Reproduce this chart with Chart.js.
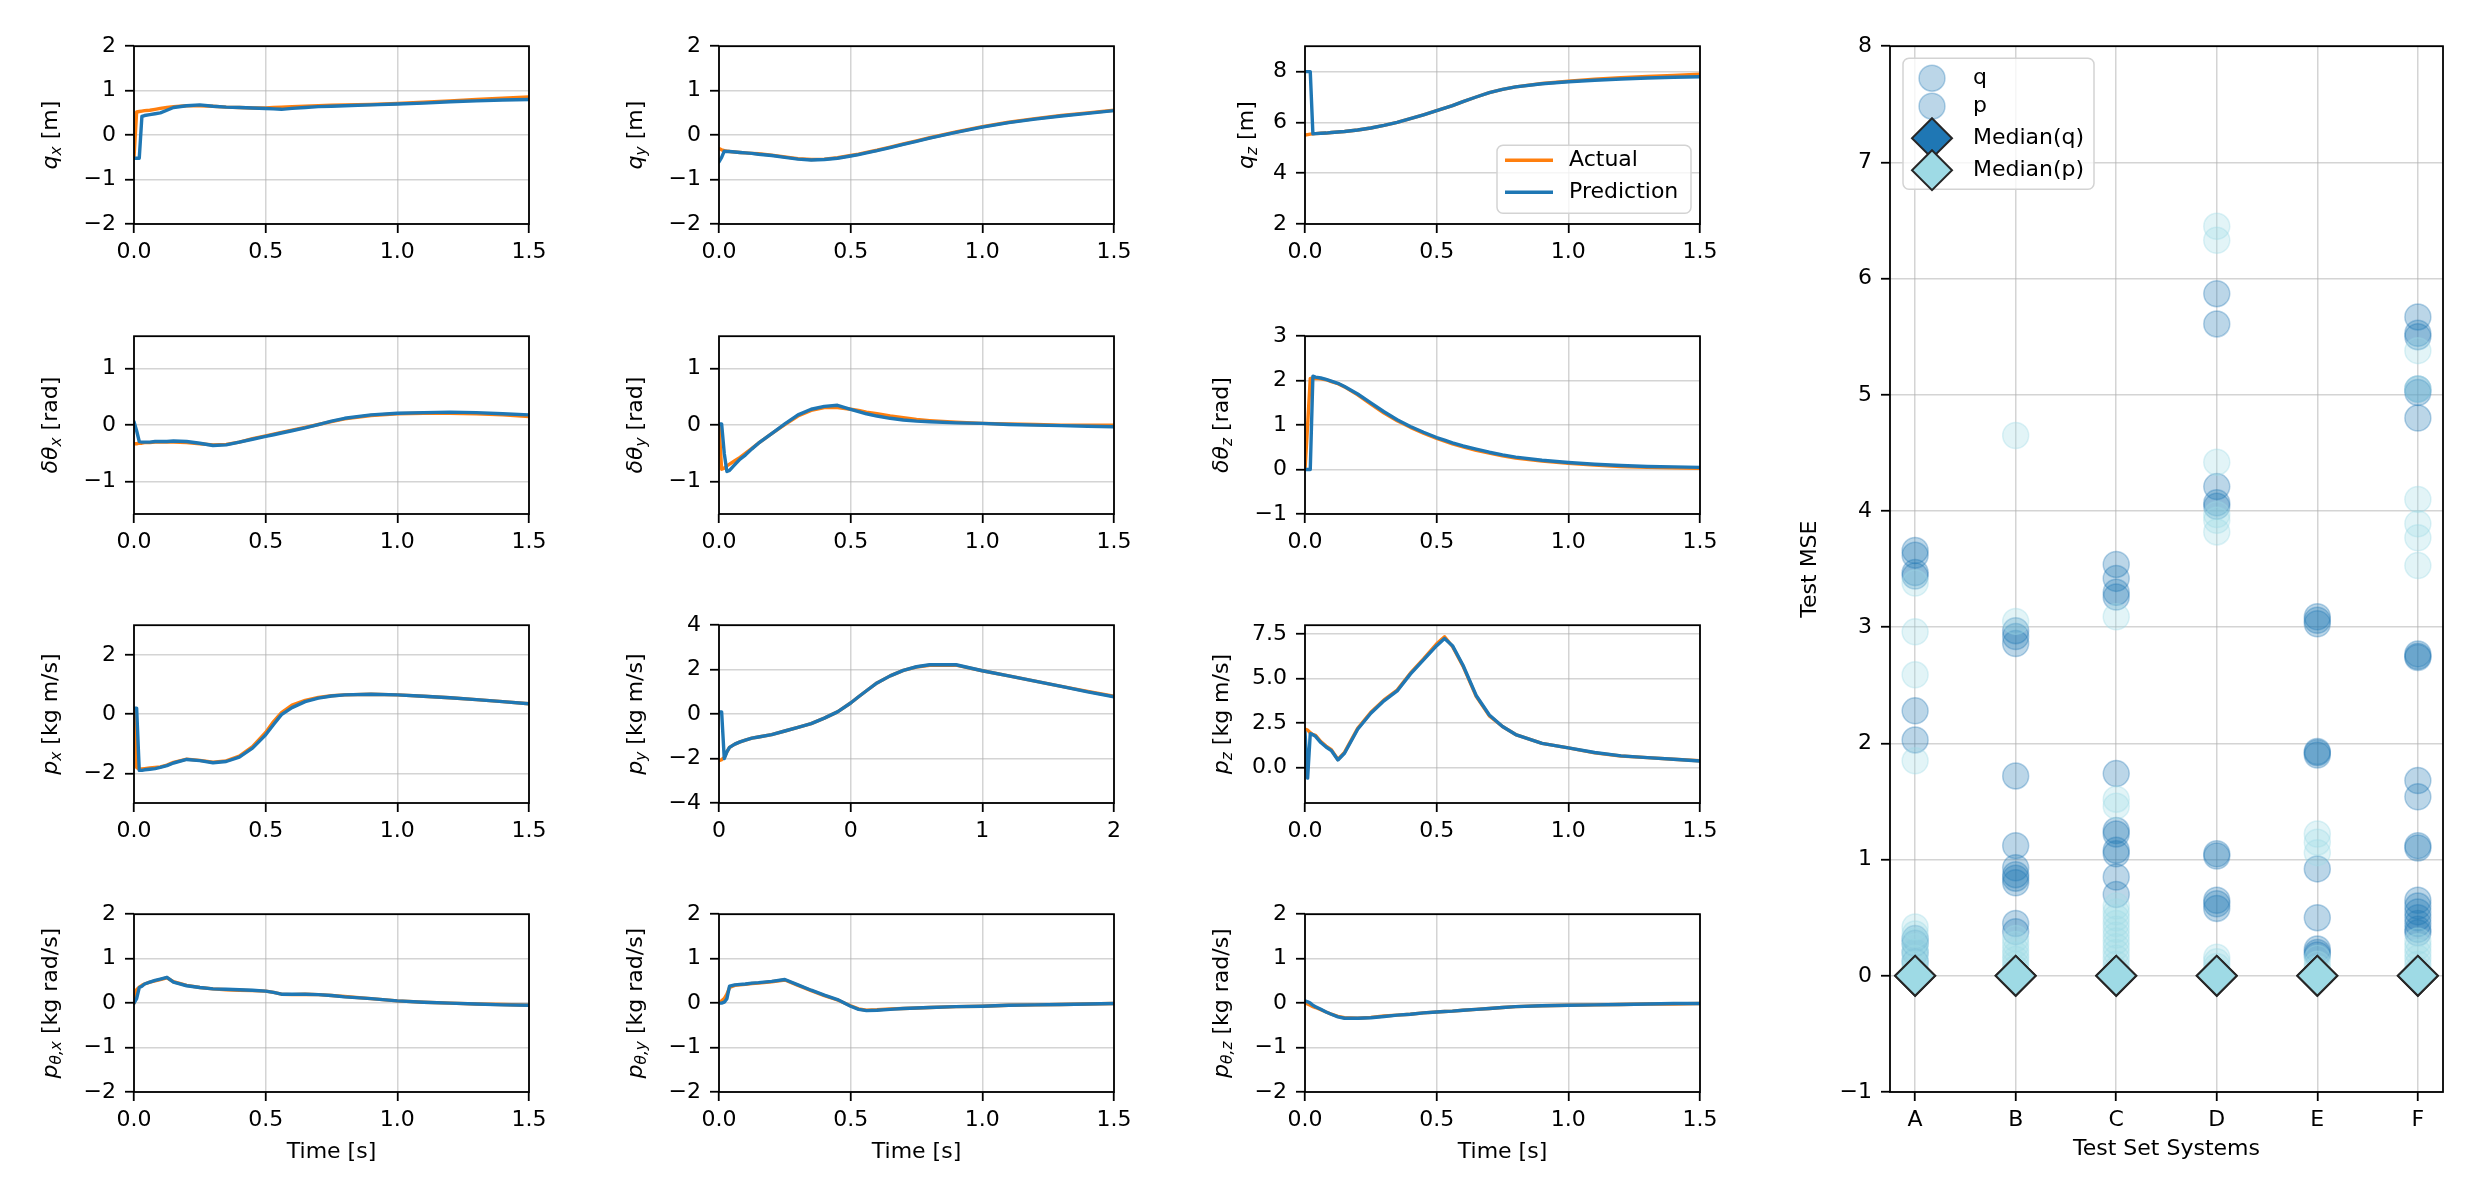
<!DOCTYPE html>
<html>
<head>
<meta charset="utf-8">
<script src="https://cdn.jsdelivr.net/npm/chart.js@4.4.1/dist/chart.umd.min.js"></script>
<style>
  html, body { margin: 0; padding: 0; background: #fff; }
  #fig { position: relative; width: 2473px; height: 1180px; overflow: hidden; background: #fff; }
</style>
</head>
<body>
<div id="fig"></div>
<script>
// ---- time samples shared by all trajectory panels
const time = [0, 0.01, 0.02, 0.03, 0.04, 0.06, 0.08, 0.1, 0.125, 0.15, 0.2, 0.25, 0.3, 0.35, 0.4,
              0.45, 0.5, 0.53, 0.56, 0.6, 0.65, 0.7, 0.75, 0.8, 0.9, 1.0, 1.1, 1.2, 1.3, 1.4, 1.5];

// position q
const qxActual = [-0.5, 0.52, 0.53, 0.54, 0.55, 0.56, 0.58, 0.6, 0.62, 0.64, 0.66, 0.66, 0.65, 0.63, 0.62, 0.61, 0.61, 0.62, 0.63, 0.64, 0.65, 0.66, 0.67, 0.68, 0.69, 0.71, 0.74, 0.77, 0.8, 0.83, 0.86];
const qxPred   = [-0.52, -0.52, -0.52, 0.42, 0.44, 0.46, 0.48, 0.5, 0.56, 0.62, 0.66, 0.68, 0.65, 0.63, 0.62, 0.61, 0.6, 0.59, 0.58, 0.6, 0.62, 0.64, 0.65, 0.66, 0.68, 0.7, 0.72, 0.75, 0.77, 0.79, 0.8];
const qyActual = [-0.3, -0.33, -0.35, -0.36, -0.37, -0.38, -0.39, -0.4, -0.41, -0.42, -0.45, -0.49, -0.53, -0.55, -0.54, -0.51, -0.46, -0.43, -0.39, -0.34, -0.27, -0.2, -0.13, -0.06, 0.07, 0.19, 0.29, 0.37, 0.44, 0.5, 0.56];
const qyPred   = [-0.6, -0.5, -0.36, -0.37, -0.37, -0.38, -0.39, -0.4, -0.41, -0.43, -0.46, -0.5, -0.54, -0.56, -0.55, -0.52, -0.47, -0.44, -0.4, -0.35, -0.28, -0.21, -0.14, -0.07, 0.06, 0.18, 0.28, 0.36, 0.43, 0.49, 0.55];
const qzActual = [5.5, 5.52, 5.54, 5.55, 5.56, 5.57, 5.58, 5.6, 5.62, 5.64, 5.7, 5.78, 5.88, 6.0, 6.15, 6.3, 6.46, 6.56, 6.66, 6.82, 7.0, 7.17, 7.3, 7.4, 7.53, 7.62, 7.7, 7.76, 7.81, 7.85, 7.9];
const qzPred   = [8.0, 8.0, 8.0, 5.55, 5.56, 5.57, 5.58, 5.6, 5.62, 5.64, 5.7, 5.78, 5.88, 6.0, 6.15, 6.3, 6.46, 6.56, 6.66, 6.82, 7.0, 7.17, 7.3, 7.4, 7.52, 7.6, 7.66, 7.71, 7.75, 7.78, 7.8];

// orientation delta theta
const dxActual = [-0.33, -0.33, -0.32, -0.32, -0.31, -0.31, -0.3, -0.3, -0.3, -0.3, -0.31, -0.33, -0.35, -0.34, -0.3, -0.24, -0.19, -0.16, -0.13, -0.09, -0.04, 0.01, 0.06, 0.11, 0.17, 0.2, 0.21, 0.21, 0.2, 0.18, 0.15];
const dxPred   = [0.06, -0.1, -0.29, -0.3, -0.3, -0.3, -0.29, -0.29, -0.29, -0.28, -0.29, -0.32, -0.36, -0.35, -0.3, -0.25, -0.2, -0.17, -0.14, -0.1, -0.05, 0.01, 0.07, 0.12, 0.18, 0.21, 0.22, 0.23, 0.22, 0.2, 0.18];
const dyActual = [0.0, -0.78, -0.76, -0.72, -0.69, -0.63, -0.57, -0.5, -0.41, -0.32, -0.15, 0.01, 0.16, 0.26, 0.31, 0.31, 0.28, 0.26, 0.23, 0.2, 0.16, 0.13, 0.1, 0.08, 0.05, 0.03, 0.02, 0.01, 0.0, 0.0, 0.0];
const dyPred   = [0.02, 0.02, -0.5, -0.82, -0.8, -0.7, -0.6, -0.53, -0.42, -0.32, -0.15, 0.02, 0.18, 0.28, 0.33, 0.35, 0.28, 0.24, 0.2, 0.16, 0.12, 0.09, 0.07, 0.06, 0.04, 0.03, 0.01, 0.0, -0.01, -0.02, -0.03];
const dzActual = [0.0, 1.0, 2.05, 2.05, 2.05, 2.04, 2.02, 1.98, 1.93, 1.86, 1.68, 1.47, 1.27, 1.1, 0.95, 0.82, 0.7, 0.64, 0.58, 0.51, 0.43, 0.37, 0.31, 0.26, 0.19, 0.14, 0.1, 0.07, 0.05, 0.04, 0.03];
const dzPred   = [0.0, 0.0, 0.0, 2.1, 2.08, 2.06, 2.03, 1.99, 1.94, 1.87, 1.7, 1.5, 1.3, 1.12, 0.97, 0.84, 0.72, 0.66, 0.6, 0.53, 0.46, 0.39, 0.33, 0.28, 0.21, 0.16, 0.12, 0.09, 0.07, 0.06, 0.05];

// linear momentum p
const pxActual = [0.15, -1.8, -1.85, -1.85, -1.84, -1.82, -1.8, -1.78, -1.72, -1.63, -1.52, -1.56, -1.62, -1.58, -1.42, -1.1, -0.62, -0.25, 0.05, 0.3, 0.46, 0.56, 0.62, 0.65, 0.67, 0.65, 0.6, 0.55, 0.49, 0.42, 0.35];
const pxPred   = [0.2, 0.2, -1.9, -1.9, -1.88, -1.86, -1.84, -1.8, -1.74, -1.65, -1.53, -1.57, -1.64, -1.6, -1.45, -1.15, -0.7, -0.35, -0.02, 0.22, 0.42, 0.54, 0.61, 0.65, 0.67, 0.65, 0.6, 0.55, 0.49, 0.42, 0.35];
const pyActual = [-2.1, -2.05, -1.95, -1.7, -1.5, -1.35, -1.25, -1.17, -1.08, -1.03, -0.92, -0.76, -0.6, -0.43, -0.18, 0.1, 0.5, 0.78, 1.05, 1.4, 1.72, 1.97, 2.12, 2.2, 2.2, 1.95, 1.72, 1.48, 1.25, 1.02, 0.8];
const pyPred   = [0.1, 0.1, -2.0, -1.7, -1.5, -1.35, -1.25, -1.17, -1.08, -1.03, -0.92, -0.76, -0.6, -0.43, -0.18, 0.1, 0.5, 0.78, 1.05, 1.4, 1.72, 1.97, 2.13, 2.22, 2.22, 1.95, 1.72, 1.48, 1.25, 1.0, 0.78];
const pzActual = [2.15, 2.1, 1.95, 1.85, 1.8, 1.45, 1.2, 1.0, 0.45, 0.85, 2.2, 3.1, 3.8, 4.35, 5.3, 6.1, 6.95, 7.35, 6.8, 5.7, 4.0, 2.9, 2.3, 1.85, 1.35, 1.1, 0.82, 0.64, 0.55, 0.46, 0.38];
const pzPred   = [2.0, -0.6, 1.9, 1.85, 1.75, 1.4, 1.15, 0.95, 0.42, 0.8, 2.15, 3.05, 3.75, 4.3, 5.25, 6.05, 6.85, 7.25, 6.85, 5.75, 4.05, 2.95, 2.3, 1.85, 1.35, 1.1, 0.84, 0.65, 0.55, 0.46, 0.36];

// angular momentum p_theta
const txActual = [0.0, 0.3, 0.36, 0.4, 0.43, 0.47, 0.5, 0.53, 0.57, 0.48, 0.4, 0.35, 0.32, 0.3, 0.29, 0.28, 0.27, 0.24, 0.2, 0.19, 0.2, 0.19, 0.17, 0.15, 0.1, 0.05, 0.02, 0.0, -0.02, -0.03, -0.05];
const txPred   = [0.0, 0.1, 0.35, 0.38, 0.43, 0.47, 0.51, 0.54, 0.58, 0.47, 0.39, 0.35, 0.32, 0.31, 0.3, 0.29, 0.27, 0.24, 0.2, 0.2, 0.2, 0.19, 0.17, 0.14, 0.1, 0.05, 0.02, 0.0, -0.02, -0.04, -0.05];
const tyActual = [0.0, 0.05, 0.1, 0.2, 0.35, 0.4, 0.41, 0.42, 0.44, 0.45, 0.48, 0.52, 0.4, 0.28, 0.17, 0.07, -0.06, -0.13, -0.16, -0.15, -0.13, -0.12, -0.11, -0.1, -0.08, -0.07, -0.05, -0.04, -0.03, -0.02, -0.01];
const tyPred   = [0.0, 0.0, 0.02, 0.1, 0.38, 0.41, 0.42, 0.43, 0.45, 0.46, 0.49, 0.53, 0.41, 0.29, 0.18, 0.08, -0.07, -0.14, -0.17, -0.16, -0.14, -0.12, -0.11, -0.1, -0.08, -0.07, -0.05, -0.04, -0.03, -0.02, -0.01];
const tzActual = [0.0, -0.02, -0.05, -0.08, -0.1, -0.15, -0.2, -0.25, -0.3, -0.33, -0.34, -0.32, -0.29, -0.27, -0.25, -0.22, -0.2, -0.19, -0.18, -0.16, -0.14, -0.12, -0.1, -0.08, -0.06, -0.05, -0.04, -0.03, -0.02, -0.02, -0.01];
const tzPred   = [0.05, 0.03, 0.0, -0.05, -0.08, -0.14, -0.2, -0.25, -0.31, -0.34, -0.34, -0.33, -0.3, -0.27, -0.25, -0.22, -0.2, -0.19, -0.18, -0.16, -0.14, -0.12, -0.1, -0.08, -0.06, -0.05, -0.04, -0.03, -0.02, -0.01, -0.01];

// ticks
const timeTicks = [0, 0.5, 1.0, 1.5];
const timeLabels = ['0.0', '0.5', '1.0', '1.5'];
const pyTimeLabels = ['0', '0', '1', '2'];
const qTicks = [-2, -1, 0, 1, 2];
const qzTicks = [2, 4, 6, 8];
const angTicks = [-1, 0, 1];
const angzTicks = [-1, 0, 1, 2, 3];
const pxTicks = [-2, 0, 2];
const pyTicks = [-4, -2, 0, 2, 4];
const pzTicks = [0, 2.5, 5, 7.5];
const ptTicks = [-2, -1, 0, 1, 2];

// ---- test MSE per system (right panel)
const systems = ['A', 'B', 'C', 'D', 'E', 'F'];
const qA = [3.66, 3.62, 3.47, 3.44, 2.28, 2.03, 0.32, 0.28, 0.2, 0.12];
const qB = [2.97, 2.92, 2.86, 1.72, 1.12, 0.93, 0.87, 0.84, 0.8, 0.45, 0.38];
const qC = [3.54, 3.42, 3.3, 3.26, 1.74, 1.25, 1.22, 1.08, 1.05, 0.85, 0.7];
const qD = [5.87, 5.61, 4.21, 4.07, 4.04, 1.05, 1.03, 0.65, 0.62, 0.58];
const qE = [3.09, 3.06, 3.03, 1.93, 1.92, 1.9, 0.92, 0.5, 0.23, 0.2, 0.18];
const qF = [5.67, 5.53, 5.5, 5.05, 5.02, 4.8, 2.77, 2.75, 2.74, 1.68, 1.54, 1.12, 1.1, 0.65, 0.6, 0.55, 0.5, 0.45, 0.4, 0.37];
const pA = [3.38, 2.96, 2.59, 1.85, 0.42, 0.36, 0.3, 0.25, 0.2, 0.15, 0.1, 0.06, 0.03, 0.01];
const pB = [4.65, 3.05, 0.32, 0.27, 0.22, 0.18, 0.14, 0.1, 0.06, 0.03, 0.01];
const pC = [3.09, 1.52, 1.46, 0.6, 0.55, 0.5, 0.45, 0.4, 0.35, 0.3, 0.25, 0.2, 0.15, 0.1, 0.05, 0.02];
const pD = [6.45, 6.33, 4.42, 3.97, 3.92, 3.82, 0.16, 0.12, 0.08, 0.04];
const pE = [1.22, 1.15, 1.06, 0.15, 0.1, 0.06, 0.02];
const pF = [5.38, 5.05, 4.1, 3.89, 3.77, 3.53, 0.3, 0.25, 0.2, 0.15, 0.1, 0.05];
const medianQ = [0, 0, 0, 0, 0, 0];
const medianP = [0, 0, 0, 0, 0, 0];
const mseTicks = [-1, 0, 1, 2, 3, 4, 5, 6, 7, 8];

// ---- look
const FONT = "'DejaVu Sans', sans-serif";
const BLUE = '#1f77b4';
const ORANGE = '#ff7f0e';
const CYAN = '#9edae5';
const FS = 22;

Chart.defaults.font.family = FONT;
Chart.defaults.font.size = FS;
Chart.defaults.color = '#000';

const COL_LEFT = [134, 719, 1305];
const ROW_TOP = [44, 334, 623, 912];
const AX_W = 395, AX_H = 180;
const PAD_L = 150, PAD_T = 20, PAD_R = 30, PAD_B = 90;

const fig = document.getElementById('fig');
function addCanvas(x, y, w, h) {
  const c = document.createElement('canvas');
  c.width = w; c.height = h;
  c.style.cssText = `position:absolute;left:${x}px;top:${y}px;width:${w}px;height:${h}px`;
  fig.appendChild(c);
  return c;
}

function num(v, dec) {
  return (v < 0 ? '\u2212' : '') + Math.abs(v).toFixed(dec);
}

// black box round every axes, drawn above the data like matplotlib spines
Chart.register({
  id: 'frame',
  afterDraw(chart) {
    const { ctx, chartArea: a } = chart;
    ctx.save();
    ctx.strokeStyle = '#000';
    ctx.lineWidth = 1.8;
    ctx.strokeRect(a.left, a.top, a.right - a.left, a.bottom - a.top);
    ctx.restore();
  }
});

const grid = {
  color: 'rgba(176,176,176,0.55)',
  lineWidth: 1.5,
  drawTicks: true,
  tickLength: 9,
  tickColor: '#000',
  tickWidth: 1.8
};

// rotated y label with italic symbol and subscript, like mathtext
function drawYLabel(ctx, cx, cy, parts) {
  const fonts = {
    i: `oblique ${FS}px ${FONT}`,
    s: `oblique ${FS * 0.7}px ${FONT}`,
    r: `${FS}px ${FONT}`
  };
  ctx.save();
  let total = 0;
  parts.forEach(([t, s]) => { ctx.font = fonts[s]; total += ctx.measureText(t).width; });
  ctx.translate(cx, cy);
  ctx.rotate(-Math.PI / 2);
  ctx.fillStyle = '#000';
  ctx.textAlign = 'left';
  ctx.textBaseline = 'alphabetic';
  let x = -total / 2;
  parts.forEach(([t, s]) => {
    ctx.font = fonts[s];
    ctx.fillText(t, x, s === 's' ? 12 : 8);
    x += ctx.measureText(t).width;
  });
  ctx.restore();
}

function legendBox(ctx, x, y, w, h) {
  ctx.save();
  ctx.fillStyle = 'rgba(255,255,255,0.8)';
  ctx.strokeStyle = '#d3d3d3';
  ctx.lineWidth = 1.5;
  ctx.beginPath();
  ctx.roundRect(x, y, w, h, 6);
  ctx.fill();
  ctx.stroke();
  ctx.restore();
}

const panels = [
  { row: 0, col: 0, actual: qxActual, pred: qxPred, yMin: -2, yMax: 2, yTicks: qTicks, dec: 0, label: [['q', 'i'], ['x', 's'], [' [m]', 'r']] },
  { row: 0, col: 1, actual: qyActual, pred: qyPred, yMin: -2, yMax: 2, yTicks: qTicks, dec: 0, label: [['q', 'i'], ['y', 's'], [' [m]', 'r']] },
  { row: 0, col: 2, actual: qzActual, pred: qzPred, yMin: 2, yMax: 9, yTicks: qzTicks, dec: 0, label: [['q', 'i'], ['z', 's'], [' [m]', 'r']], labelOff: 60, legend: true },
  { row: 1, col: 0, actual: dxActual, pred: dxPred, yMin: -1.5708, yMax: 1.5708, yTicks: angTicks, dec: 0, label: [['\u03b4\u03b8', 'i'], ['x', 's'], [' [rad]', 'r']] },
  { row: 1, col: 1, actual: dyActual, pred: dyPred, yMin: -1.5708, yMax: 1.5708, yTicks: angTicks, dec: 0, label: [['\u03b4\u03b8', 'i'], ['y', 's'], [' [rad]', 'r']] },
  { row: 1, col: 2, actual: dzActual, pred: dzPred, yMin: -1, yMax: 3, yTicks: angzTicks, dec: 0, label: [['\u03b4\u03b8', 'i'], ['z', 's'], [' [rad]', 'r']] },
  { row: 2, col: 0, actual: pxActual, pred: pxPred, yMin: -3, yMax: 3, yTicks: pxTicks, dec: 0, label: [['p', 'i'], ['x', 's'], [' [kg m/s]', 'r']] },
  { row: 2, col: 1, actual: pyActual, pred: pyPred, yMin: -4, yMax: 4, yTicks: pyTicks, dec: 0, label: [['p', 'i'], ['y', 's'], [' [kg m/s]', 'r']], xLabels: pyTimeLabels },
  { row: 2, col: 2, actual: pzActual, pred: pzPred, yMin: -2, yMax: 8, yTicks: pzTicks, dec: 1, label: [['p', 'i'], ['z', 's'], [' [kg m/s]', 'r']] },
  { row: 3, col: 0, actual: txActual, pred: txPred, yMin: -2, yMax: 2, yTicks: ptTicks, dec: 0, label: [['p', 'i'], ['\u03b8,x', 's'], [' [kg rad/s]', 'r']], xTitle: 'Time [s]' },
  { row: 3, col: 1, actual: tyActual, pred: tyPred, yMin: -2, yMax: 2, yTicks: ptTicks, dec: 0, label: [['p', 'i'], ['\u03b8,y', 's'], [' [kg rad/s]', 'r']], xTitle: 'Time [s]' },
  { row: 3, col: 2, actual: tzActual, pred: tzPred, yMin: -2, yMax: 2, yTicks: ptTicks, dec: 0, label: [['p', 'i'], ['\u03b8,z', 's'], [' [kg rad/s]', 'r']], xTitle: 'Time [s]' }
];

function linePanel(p) {
  const w = AX_W + PAD_L + PAD_R, h = AX_H + PAD_T + PAD_B;
  const canvas = addCanvas(COL_LEFT[p.col] - PAD_L, ROW_TOP[p.row] - PAD_T, w, h);
  const xLabels = p.xLabels || timeLabels;
  new Chart(canvas, {
    type: 'line',
    data: {
      datasets: [
        { label: 'Prediction', data: time.map((t, i) => ({ x: t, y: p.pred[i] })), borderColor: BLUE, order: 0 },
        { label: 'Actual', data: time.map((t, i) => ({ x: t, y: p.actual[i] })), borderColor: ORANGE, order: 1 }
      ]
    },
    options: {
      responsive: false,
      animation: false,
      elements: {
        point: { radius: 0 },
        line: { borderWidth: 3.4, tension: 0, borderJoinStyle: 'round', borderCapStyle: 'round' }
      },
      layout: { padding: { left: 0, top: PAD_T, right: PAD_R, bottom: 0 } },
      plugins: { legend: { display: false }, tooltip: { enabled: false } },
      scales: {
        x: {
          type: 'linear', min: 0, max: 1.5,
          afterBuildTicks: s => { s.ticks = timeTicks.map(v => ({ value: v })); },
          afterFit: s => { s.height = PAD_B; },
          ticks: { autoSkip: false, maxRotation: 0, padding: 6, callback: (v, i) => xLabels[i] },
          grid: grid,
          border: { display: false }
        },
        y: {
          type: 'linear', min: p.yMin, max: p.yMax,
          afterBuildTicks: s => { s.ticks = p.yTicks.map(v => ({ value: v })); },
          afterFit: s => { s.width = PAD_L; },
          ticks: { autoSkip: false, padding: 9, callback: v => num(v, p.dec) },
          grid: grid,
          border: { display: false }
        }
      }
    },
    plugins: [{
      id: 'texts',
      afterDraw(chart) {
        const { ctx, chartArea: a } = chart;
        drawYLabel(ctx, a.left - (p.labelOff || 85), (a.top + a.bottom) / 2, p.label);
        if (p.xTitle) {
          ctx.save();
          ctx.font = `${FS}px ${FONT}`;
          ctx.fillStyle = '#000';
          ctx.textAlign = 'center';
          ctx.textBaseline = 'middle';
          ctx.fillText(p.xTitle, (a.left + a.right) / 2, a.bottom + 60);
          ctx.restore();
        }
        if (p.legend) {
          const x0 = a.left + 192, y0 = a.top + 99;
          legendBox(ctx, x0, y0, 194, 68);
          [['Actual', ORANGE, 15], ['Prediction', BLUE, 47]].forEach(([txt, col, dy]) => {
            ctx.save();
            ctx.strokeStyle = col;
            ctx.lineWidth = 3.4;
            ctx.beginPath();
            ctx.moveTo(x0 + 8, y0 + dy);
            ctx.lineTo(x0 + 56, y0 + dy);
            ctx.stroke();
            ctx.font = `${FS}px ${FONT}`;
            ctx.fillStyle = '#000';
            ctx.textBaseline = 'middle';
            ctx.fillText(txt, x0 + 72, y0 + dy);
            ctx.restore();
          });
        }
      }
    }]
  });
}

panels.forEach(linePanel);

// ---- right panel: test MSE scatter
(function () {
  const left = 1890, top = 44, right = 2443, bottom = 1092;
  const pl = 130, pt = 20, pr = 25, pb = 90;
  const w = right - left + pl + pr, h = bottom - top + pt + pb;
  const canvas = addCanvas(left - pl, top - pt, w, h);
  const qSets = [qA, qB, qC, qD, qE, qF];
  const pSets = [pA, pB, pC, pD, pE, pF];
  const pts = sets => sets.flatMap((vals, i) => vals.map(v => ({ x: i, y: v })));
  const qFill = 'rgba(31,119,180,0.3)';
  const pFill = 'rgba(158,218,229,0.3)';

  new Chart(canvas, {
    type: 'scatter',
    data: {
      datasets: [
        { label: 'Median(p)', data: medianP.map((v, i) => ({ x: i, y: v })), pointStyle: 'rectRot', pointRadius: 20,
          backgroundColor: CYAN, borderColor: '#262626', borderWidth: 2, order: 0 },
        { label: 'Median(q)', data: medianQ.map((v, i) => ({ x: i, y: v })), pointStyle: 'rectRot', pointRadius: 20,
          backgroundColor: BLUE, borderColor: '#262626', borderWidth: 2, order: 1 },
        { label: 'p', data: pts(pSets), pointRadius: 13, backgroundColor: pFill, borderColor: 'rgba(158,218,229,0.35)', borderWidth: 1.5, order: 2 },
        { label: 'q', data: pts(qSets), pointRadius: 13, backgroundColor: qFill, borderColor: 'rgba(31,119,180,0.32)', borderWidth: 1.5, order: 3 }
      ]
    },
    options: {
      responsive: false,
      animation: false,
      layout: { padding: { left: 0, top: pt, right: pr, bottom: 0 } },
      plugins: { legend: { display: false }, tooltip: { enabled: false } },
      scales: {
        x: {
          type: 'linear', min: -0.25, max: 5.25,
          afterBuildTicks: s => { s.ticks = systems.map((c, i) => ({ value: i })); },
          afterFit: s => { s.height = pb; },
          ticks: { autoSkip: false, maxRotation: 0, padding: 6, callback: (v, i) => systems[i] },
          grid: grid,
          border: { display: false }
        },
        y: {
          type: 'linear', min: -1, max: 8,
          afterBuildTicks: s => { s.ticks = mseTicks.map(v => ({ value: v })); },
          afterFit: s => { s.width = pl; },
          ticks: { autoSkip: false, padding: 9, callback: v => num(v, 0) },
          grid: grid,
          border: { display: false }
        }
      }
    },
    plugins: [{
      id: 'texts',
      afterDraw(chart) {
        const { ctx, chartArea: a } = chart;
        ctx.save();
        ctx.font = `${FS}px ${FONT}`;
        ctx.fillStyle = '#000';
        ctx.textAlign = 'center';
        ctx.textBaseline = 'middle';
        ctx.fillText('Test Set Systems', (a.left + a.right) / 2, a.bottom + 57);
        ctx.translate(a.left - 80, (a.top + a.bottom) / 2);
        ctx.rotate(-Math.PI / 2);
        ctx.fillText('Test MSE', 0, 0);
        ctx.restore();

        // legend
        const x0 = a.left + 13, y0 = a.top + 12;
        legendBox(ctx, x0, y0, 191, 131);
        const mx = x0 + 29, tx = x0 + 70;
        const rows = [
          ['q', 'circle', qFill, 'rgba(31,119,180,0.32)', 20],
          ['p', 'circle', qFill, 'rgba(31,119,180,0.32)', 48],
          ['Median(q)', 'diamond', BLUE, '#262626', 80],
          ['Median(p)', 'diamond', CYAN, '#262626', 112]
        ];
        rows.forEach(([txt, shape, fill, edge, dy]) => {
          const my = y0 + dy;
          ctx.save();
          ctx.fillStyle = fill;
          ctx.strokeStyle = edge;
          ctx.beginPath();
          if (shape === 'circle') {
            ctx.lineWidth = 1.5;
            ctx.arc(mx, my, 13, 0, Math.PI * 2);
          } else {
            ctx.lineWidth = 2;
            ctx.moveTo(mx, my - 20); ctx.lineTo(mx + 20, my); ctx.lineTo(mx, my + 20); ctx.lineTo(mx - 20, my);
            ctx.closePath();
          }
          ctx.fill();
          ctx.stroke();
          ctx.fillStyle = '#000';
          ctx.font = `${FS}px ${FONT}`;
          ctx.textBaseline = 'middle';
          ctx.fillText(txt, tx, my);
          ctx.restore();
        });
      }
    }]
  });
})();
</script>
</body>
</html>
